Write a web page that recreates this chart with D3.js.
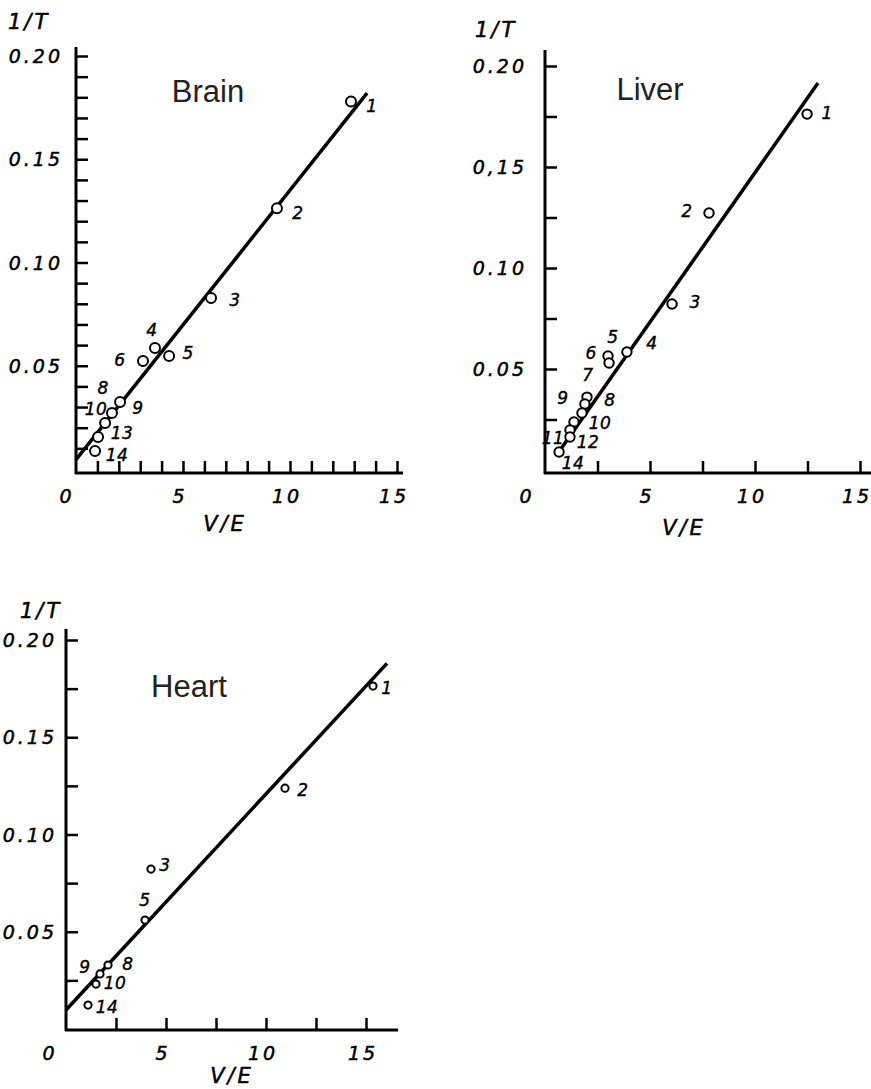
<!DOCTYPE html>
<html>
	<head>
		<meta charset="utf-8">
		<title>1/T vs V/E</title>
		<script src="https://d3js.org/d3.v7.min.js"></script>
		<style>
			body { margin: 0; background: #fff; }
			text { fill: #000; }
			.tick-label { font-family: "DejaVu Sans", sans-serif; font-style: italic; font-size: 19px; letter-spacing: 3px; stroke: #000; stroke-width: 0.5px; }
			.pt-label { font-family: "DejaVu Sans", sans-serif; font-style: italic; font-size: 17px; letter-spacing: 0.5px; stroke: #000; stroke-width: 0.4px; }
			.title { font-family: "Liberation Sans", Arial, sans-serif; font-size: 31px; fill: #222; }
		</style>
	</head>
	<body>
		<script>

			// Brain
			var brainIds = [1, 2, 3, 4, 5, 6, 8, 9, 10, 13, 14];
			var brainVE  = [12.85, 9.39, 6.31, 3.69, 4.35, 3.13, 2.06, 1.68, 1.36, 1.03, 0.89];
			var brainT   = [0.178, 0.1263, 0.0828, 0.0586, 0.0547, 0.0523, 0.0324, 0.0271, 0.0223, 0.0155, 0.0087];
			var brainFitVE = [0, 13.6];
			var brainFitT  = [0.0045, 0.182];

			// Liver
			var liverIds = [1, 2, 3, 4, 5, 6, 7, 8, 9, 10, 11, 12, 14];
			var liverVE  = [12.48, 7.81, 6.05, 3.9, 3.0, 3.05, 2.0, 1.9, 1.76, 1.38, 1.19, 1.19, 0.67];
			var liverT   = [0.1762, 0.1272, 0.0822, 0.0584, 0.0564, 0.053, 0.0361, 0.0327, 0.0282, 0.0238, 0.0198, 0.0163, 0.0089];
			var liverFitVE = [0.62, 13.0];
			var liverFitT  = [0.0084, 0.1916];

			// Heart
			var heartIds = [1, 2, 3, 5, 8, 9, 10, 14];
			var heartVE  = [15.35, 10.95, 4.25, 3.95, 2.1, 1.7, 1.5, 1.1];
			var heartT   = [0.1763, 0.1238, 0.0822, 0.056, 0.0329, 0.0283, 0.0231, 0.0123];
			var heartFitVE = [0, 16.05];
			var heartFitT  = [0.0098, 0.188];

			// tick labels
			var xTickValues = [0, 5, 10, 15];
			var yTickValues = [0.05, 0.10, 0.15, 0.20];
			var yTickText = ["0.05", "0.10", "0.15", "0.20"];
			var yTickTextLiver = ["0.05", "0.10", "0,15", "0.20"];

			// label offsets from the point (px), by point number
			var brainLab = {1:[21,5], 2:[21,5], 3:[24,2], 4:[-3,-18], 5:[19,-3], 6:[-23,-1],
				8:[-17,-14], 9:[26,-5], 10:[-9,-14], 13:[24,-4], 14:[22,4]};
			var liverLab = {1:[20,-1], 2:[-22,-2], 3:[23,-2], 4:[25,-9], 5:[5,-19], 6:[-18,-10],
				7:[1,-22], 8:[25,-4], 9:[-19,-15], 10:[26,1], 11:[-17,8], 12:[18,5], 14:[14,11]};
			var heartLab = {1:[14,2], 2:[18,2], 3:[14,-4], 5:[0,-20], 8:[20,-1], 9:[-15,-7],
				10:[19,-1], 14:[19,2]};

			var w = 871;
			var h = 1089;

			var svg = d3.select("body")
						.append("svg")
						.attr("width", w)
						.attr("height", h);

			var panels = [
				{ name: "Brain", ids: brainIds, ve: brainVE, t: brainT, fitVE: brainFitVE, fitT: brainFitT, lab: brainLab,
				  x0: 76, x15: 397, xEnd: 403, y0: 469, y20: 56, yTop: 47, xAxisY: 473,
				  xMinor: d3.range(1, 15.1, 1), yMinor: d3.range(0.01, 0.2001, 0.01),
				  zeroDx: -9, yLabDx: -13, r: 5, yText: yTickText,
				  titleX: 208, titleY: 102, veX: 225, veY: 531, itX: 8, itY: 29 },
				{ name: "Liver", ids: liverIds, ve: liverVE, t: liverT, fitVE: liverFitVE, fitT: liverFitT, lab: liverLab,
				  x0: 545, x15: 860, xEnd: 871, y0: 470, y20: 66, yTop: 50, xAxisY: 473,
				  xMinor: d3.range(2.5, 15.1, 2.5), yMinor: d3.range(0.025, 0.2001, 0.025),
				  zeroDx: -18, yLabDx: -18, r: 4.7, yText: yTickTextLiver,
				  titleX: 650, titleY: 100, veX: 684, veY: 535, itX: 475, itY: 37 },
				{ name: "Heart", ids: heartIds, ve: heartVE, t: heartT, fitVE: heartFitVE, fitT: heartFitT, lab: heartLab,
				  x0: 66, x15: 366, xEnd: 398, y0: 1029, y20: 640, yTop: 629, xAxisY: 1030,
				  xMinor: d3.range(2.5, 15.1, 2.5), yMinor: d3.range(0.025, 0.2001, 0.025),
				  zeroDx: -16, yLabDx: -9, r: 3.6, yText: yTickText,
				  titleX: 189, titleY: 697, veX: 232, veY: 1083, itX: 20, itY: 618 }
			];

			panels.forEach(function(p) {
				var xScale = d3.scaleLinear().domain([0, 15]).range([p.x0, p.x15]);
				var yScale = d3.scaleLinear().domain([0, 0.2]).range([p.y0, p.y20]);
				var g = svg.append("g");

				// axis lines
				g.append("line")
					.attr("x1", p.x0).attr("x2", p.x0)
					.attr("y1", p.xAxisY + 1).attr("y2", p.yTop)
					.attr("stroke", "black").attr("stroke-width", 3);
				g.append("line")
					.attr("x1", p.x0 - 1).attr("x2", p.xEnd)
					.attr("y1", p.xAxisY).attr("y2", p.xAxisY)
					.attr("stroke", "black").attr("stroke-width", 3);

				// inward ticks
				var yAxis = d3.axisRight(yScale).tickValues(p.yMinor).tickSize(12).tickFormat("");
				var xAxis = d3.axisTop(xScale).tickValues(p.xMinor).tickSize(12).tickFormat("");
				var ya = g.append("g").attr("transform", "translate(" + p.x0 + ",0)").call(yAxis);
				var xa = g.append("g").attr("transform", "translate(0," + p.xAxisY + ")").call(xAxis);
				[ya, xa].forEach(function(a) {
					a.select(".domain").remove();
					a.selectAll(".tick line").attr("stroke", "black").attr("stroke-width", 2.5);
				});

				// tick labels
				g.selectAll(".xl")
					.data(xTickValues)
					.enter()
					.append("text")
					.attr("class", "tick-label")
					.attr("text-anchor", "middle")
					.attr("x", function(d) { return d === 0 ? xScale(d) + p.zeroDx : xScale(d) - 3; })
					.attr("y", p.xAxisY + 30)
					.text(function(d) { return d; });

				g.selectAll(".yl")
					.data(yTickValues)
					.enter()
					.append("text")
					.attr("class", "tick-label")
					.attr("text-anchor", "end")
					.attr("x", p.x0 + p.yLabDx)
					.attr("y", function(d) { return yScale(d) + 7; })
					.text(function(d, i) { return p.yText[i]; });

				// axis titles
				g.append("text")
					.attr("class", "tick-label")
					.attr("x", p.itX).attr("y", p.itY)
					.style("font-size", "21px")
					.text("1/T");
				g.append("text")
					.attr("class", "tick-label")
					.attr("text-anchor", "middle")
					.attr("x", p.veX).attr("y", p.veY)
					.style("font-size", "21px")
					.text("V/E");

				// panel title
				g.append("text")
					.attr("class", "title")
					.attr("text-anchor", "middle")
					.attr("x", p.titleX).attr("y", p.titleY)
					.text(p.name);

				// fitted line
				var fit = p.fitVE.map(function(v, i) { return [v, p.fitT[i]]; });
				g.append("path")
					.datum(fit)
					.attr("fill", "none")
					.attr("stroke", "black")
					.attr("stroke-width", 3.5)
					.attr("d", d3.line()
						.x(function(d) { return xScale(d[0]); })
						.y(function(d) { return yScale(d[1]); }));

				// points
				var pts = p.ids.map(function(id, i) { return { id: id, v: p.ve[i], t: p.t[i] }; });
				g.selectAll("circle")
					.data(pts)
					.enter()
					.append("circle")
					.attr("cx", function(d) { return xScale(d.v); })
					.attr("cy", function(d) { return yScale(d.t); })
					.attr("r", p.r)
					.attr("fill", "white")
					.attr("stroke", "black")
					.attr("stroke-width", 2);

				g.selectAll(".pl")
					.data(pts)
					.enter()
					.append("text")
					.attr("class", "pt-label")
					.attr("text-anchor", "middle")
					.attr("dominant-baseline", "central")
					.attr("x", function(d) { return xScale(d.v) + p.lab[d.id][0]; })
					.attr("y", function(d) { return yScale(d.t) + p.lab[d.id][1]; })
					.text(function(d) { return d.id; });
			});

		</script>
	</body>
</html>
